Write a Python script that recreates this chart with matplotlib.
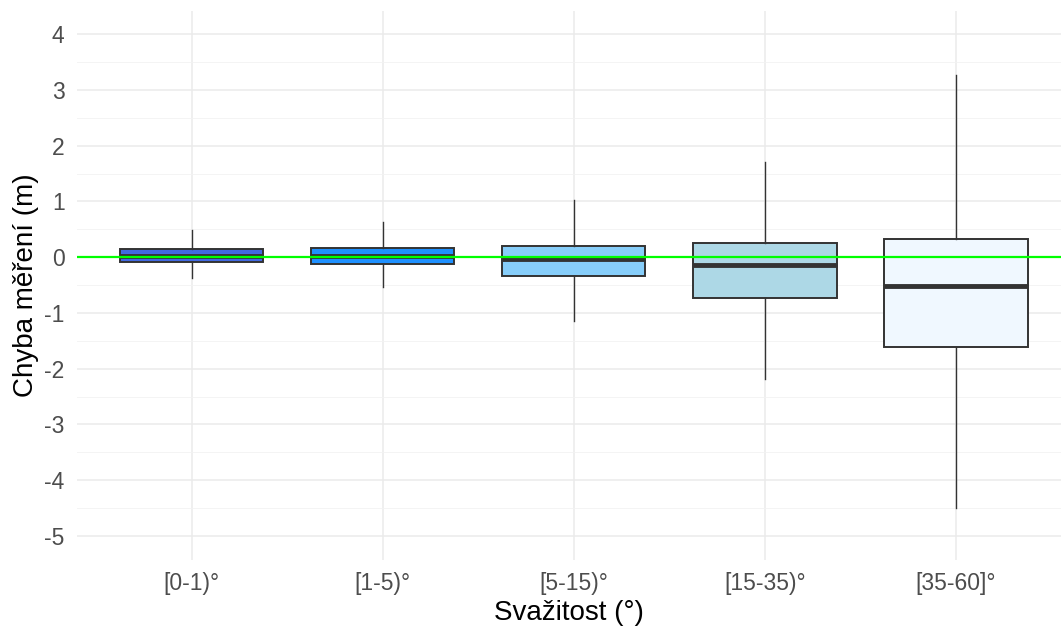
import matplotlib
matplotlib.use('Agg')
import matplotlib.pyplot as plt
from matplotlib.ticker import MultipleLocator

plt.rcParams['font.family'] = ['Liberation Sans', 'DejaVu Sans']

# slope classes and boxplot summaries
categories = ['[0-1)°', '[1-5)°', '[5-15)°', '[15-35)°', '[35-60]°']
whisker_low = [-0.38, -0.54, -1.14, -2.18, -4.49]
q1 = [-0.08, -0.12, -0.34, -0.74, -1.61]
median = [0.02, 0.03, -0.04, -0.14, -0.51]
q3 = [0.14, 0.17, 0.20, 0.26, 0.33]
whisker_high = [0.49, 0.63, 1.03, 1.71, 3.27]
fills = ['#4169E1', '#1E90FF', '#87CEFA', '#ADD8E6', '#F0F8FF']

stats = []
for lab, lo, a, m, b, hi in zip(categories, whisker_low, q1, median, q3, whisker_high):
    stats.append({'label': lab, 'whislo': lo, 'q1': a, 'med': m,
                  'q3': b, 'whishi': hi, 'fliers': []})

fig = plt.figure(figsize=(10.61, 6.32), dpi=100)
ax = fig.add_axes([0.0726, 0.114, 0.9274, 0.869])

positions = list(range(1, len(categories) + 1))
bp = ax.bxp(stats, positions=positions, widths=0.75, patch_artist=True,
            showcaps=False, showfliers=False,
            boxprops=dict(edgecolor='#333333', linewidth=1.4),
            whiskerprops=dict(color='#333333', linewidth=1.0),
            medianprops=dict(color='#333333', linewidth=3.5, solid_capstyle='butt'),
            zorder=3)
for patch, c in zip(bp['boxes'], fills):
    patch.set_facecolor(c)

ax.axhline(0, color='#00FF00', linewidth=1.6, zorder=4)

ax.set_xlim(0.4, 5.55)
ax.set_ylim(-5.43, 4.42)
ax.yaxis.set_major_locator(MultipleLocator(1))
ax.yaxis.set_minor_locator(MultipleLocator(0.5))

ax.grid(which='major', axis='both', color='#EBEBEB', linewidth=1.1, zorder=0)
ax.grid(which='minor', axis='y', color='#F2F2F2', linewidth=0.6, zorder=0)
ax.set_axisbelow(True)
for s in ax.spines.values():
    s.set_visible(False)

ax.tick_params(axis='both', which='both', length=0, labelsize=16.5, labelcolor='#4D4D4D')
ax.tick_params(axis='y', pad=9)
ax.tick_params(axis='x', pad=9)
ax.set_yticks(range(-5, 5))
ax.set_yticklabels([str(v) for v in range(-5, 5)])

ax.set_xlabel('Svažitost (°)', fontsize=20, color='black', labelpad=3)
ax.set_ylabel('Chyba měření (m)', fontsize=20, color='black', labelpad=4)

fig.savefig('out.png', dpi=100, facecolor='white')
